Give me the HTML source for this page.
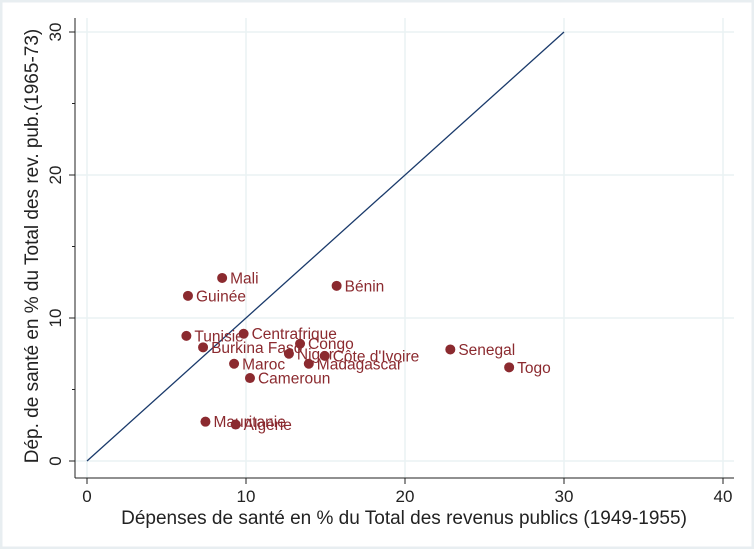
<!DOCTYPE html>
<html><head><meta charset="utf-8"><style>
html,body{margin:0;padding:0;background:#fff}
svg{display:block;font-family:"Liberation Sans",sans-serif}
</style></head><body>
<svg id="c" width="754" height="549">
<rect x="1" y="1" width="752" height="547" fill="#fff" stroke="#e8eef1" stroke-width="3"/>
<g id="grid"></g><g id="axes"></g><g id="marks"></g>
<text x="404" y="524" text-anchor="middle" font-size="19" fill="#222">Dépenses de santé en % du Total des revenus publics (1949-1955)</text>
<text transform="translate(38,246) rotate(-90)" text-anchor="middle" font-size="19" fill="#222">Dép. de santé en % du Total des rev. pub.(1965-73)</text>
</svg>
<script>
const countries=["Mali","Guinée","Bénin","Tunisie","Centrafrique","Burkina Faso","Congo","Niger","Côte d'Ivoire","Madagascar","Senegal","Togo","Maroc","Cameroun","Mauritanie","Algérie"];
const xVals=[8.5,6.35,15.7,6.25,9.85,7.3,13.4,12.7,14.95,13.95,22.85,26.55,9.25,10.25,7.45,9.35];
const yVals=[12.8,11.55,12.25,8.75,8.9,7.95,8.2,7.5,7.35,6.8,7.8,6.55,6.8,5.8,2.75,2.55];
const xTicks=[0,10,20,30,40];
const yTicks=[0,10,20,30];
const yMinor=[5,15,25];
const ns="http://www.w3.org/2000/svg";
const X=v=>87+v*15.9, Y=v=>461-v*14.3;
function mk(tag,attrs,parent,txt){const e=document.createElementNS(ns,tag);for(const k in attrs)e.setAttribute(k,attrs[k]);if(txt!=null)e.textContent=txt;parent.appendChild(e);return e;}
const grid=document.getElementById('grid'),axes=document.getElementById('axes'),marks=document.getElementById('marks');
xTicks.forEach(t=>{const l=mk('line',{x1:X(t),x2:X(t),y1:18,y2:478,stroke:'#eaf2f3','stroke-width':1.5},grid);


const tk=mk('line',{x1:X(t),x2:X(t),y1:478,y2:484,stroke:'#222'},axes);


const tx=mk('text',{x:X(t),y:502,'text-anchor':'middle','font-size':17,fill:'#222'},axes,t);

});
yTicks.forEach(t=>{const l=mk('line',{x1:75,x2:734,y1:Y(t),y2:Y(t),stroke:'#eaf2f3','stroke-width':1.5},grid);


const tk=mk('line',{x1:69,x2:75,y1:Y(t),y2:Y(t),stroke:'#222'},axes);


const tx=mk('text',{transform:`translate(61,${Y(t)}) rotate(-90)`,'text-anchor':'middle','font-size':17,fill:'#222'},axes,t);

});
yMinor.forEach(t=>{const tk=mk('line',{x1:72,x2:75,y1:Y(t),y2:Y(t),stroke:'#222'},axes);

});
const ya=mk('line',{x1:75,x2:75,y1:18,y2:478,stroke:'#222','stroke-width':1},axes);


const xa=mk('line',{x1:75,x2:734,y1:478,y2:478,stroke:'#222','stroke-width':1},axes);


const diag=mk('line',{x1:X(0),y1:Y(0),x2:X(30),y2:Y(30),stroke:'#1a3a6b','stroke-width':1.3},marks);


countries.forEach((c,i)=>{
const p=mk('circle',{cx:X(xVals[i]),cy:Y(yVals[i]),r:5,fill:'#8b2a2f'},marks);


const t=mk('text',{x:X(xVals[i])+8,y:Y(yVals[i])+5.5,'font-size':15.5,fill:'#8b2a2f'},marks,c);


});
</script>
</body></html>
